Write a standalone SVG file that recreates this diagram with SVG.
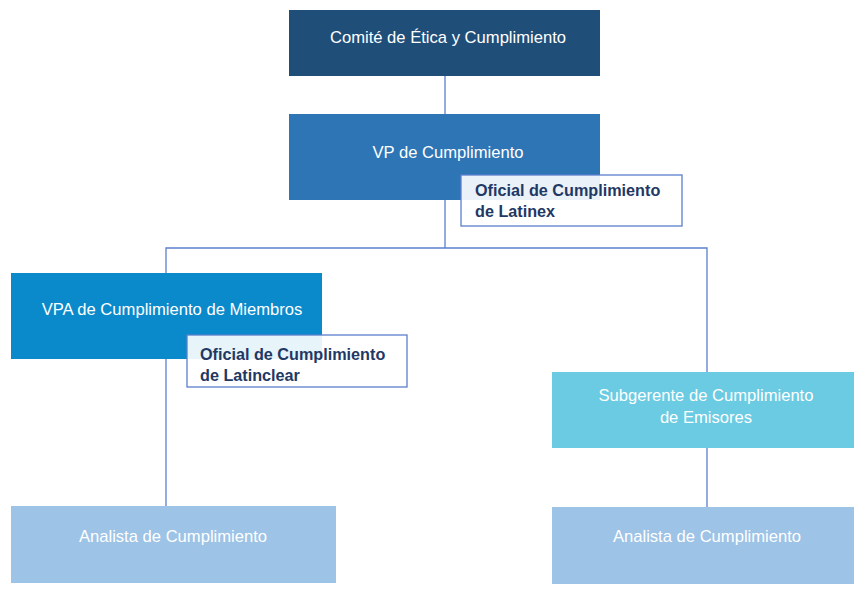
<svg xmlns="http://www.w3.org/2000/svg" width="854" height="599" viewBox="0 0 854 599">
<style>
.t{font-family:"Liberation Sans",Arial,sans-serif;font-size:16.6px;fill:#ffffff;text-anchor:middle}
.b{font-family:"Liberation Sans",Arial,sans-serif;font-size:16.2px;font-weight:bold;fill:#1f3864}
.c{fill:none;stroke:#5b7fcc;stroke-width:1.3}
.lbl{fill:#ffffff;fill-opacity:0.9;stroke:#5b7fcc;stroke-width:1.3}
</style>
<rect width="854" height="599" fill="#ffffff"/>
<g id="connectors">
<line class="c" x1="445" y1="76" x2="445" y2="114"/>
<line class="c" x1="445" y1="200" x2="445" y2="248"/>
<polyline class="c" points="166,273 166,248 707,248 707,372"/>
<line class="c" x1="166" y1="359" x2="166" y2="506"/>
<line class="c" x1="707" y1="448" x2="707" y2="507"/>
</g>
<g id="comite">
<rect x="289" y="10" width="311" height="66" fill="#1f4e79"/>
<text class="t" x="448" y="43">Comité de Ética y Cumplimiento</text>
</g>
<g id="vp">
<rect x="289" y="114" width="311" height="86" fill="#2e75b6"/>
<text class="t" x="448" y="158">VP de Cumplimiento</text>
</g>
<g id="oficial-latinex">
<rect class="lbl" x="461" y="175" width="221" height="51"/>
<text class="b" x="475" y="196">Oficial de Cumplimiento</text>
<text class="b" x="475" y="217">de Latinex</text>
</g>
<g id="vpa">
<rect x="11" y="273" width="311" height="86" fill="#0a8acb"/>
<text class="t" x="172" y="315">VPA de Cumplimiento de Miembros</text>
</g>
<g id="oficial-latinclear">
<rect class="lbl" x="187" y="335" width="220" height="52"/>
<text class="b" x="200" y="360">Oficial de Cumplimiento</text>
<text class="b" x="200" y="381">de Latinclear</text>
</g>
<g id="subgerente">
<rect x="552" y="372" width="302" height="76" fill="#6bcbe2"/>
<text class="t" x="706" y="401">Subgerente de Cumplimiento</text>
<text class="t" x="706" y="423">de Emisores</text>
</g>
<g id="analista-1">
<rect x="11" y="506" width="325" height="77" fill="#9dc3e6"/>
<text class="t" x="173" y="542">Analista de Cumplimiento</text>
</g>
<g id="analista-2">
<rect x="552" y="507" width="302" height="77" fill="#9dc3e6"/>
<text class="t" x="707" y="542">Analista de Cumplimiento</text>
</g>
</svg>
